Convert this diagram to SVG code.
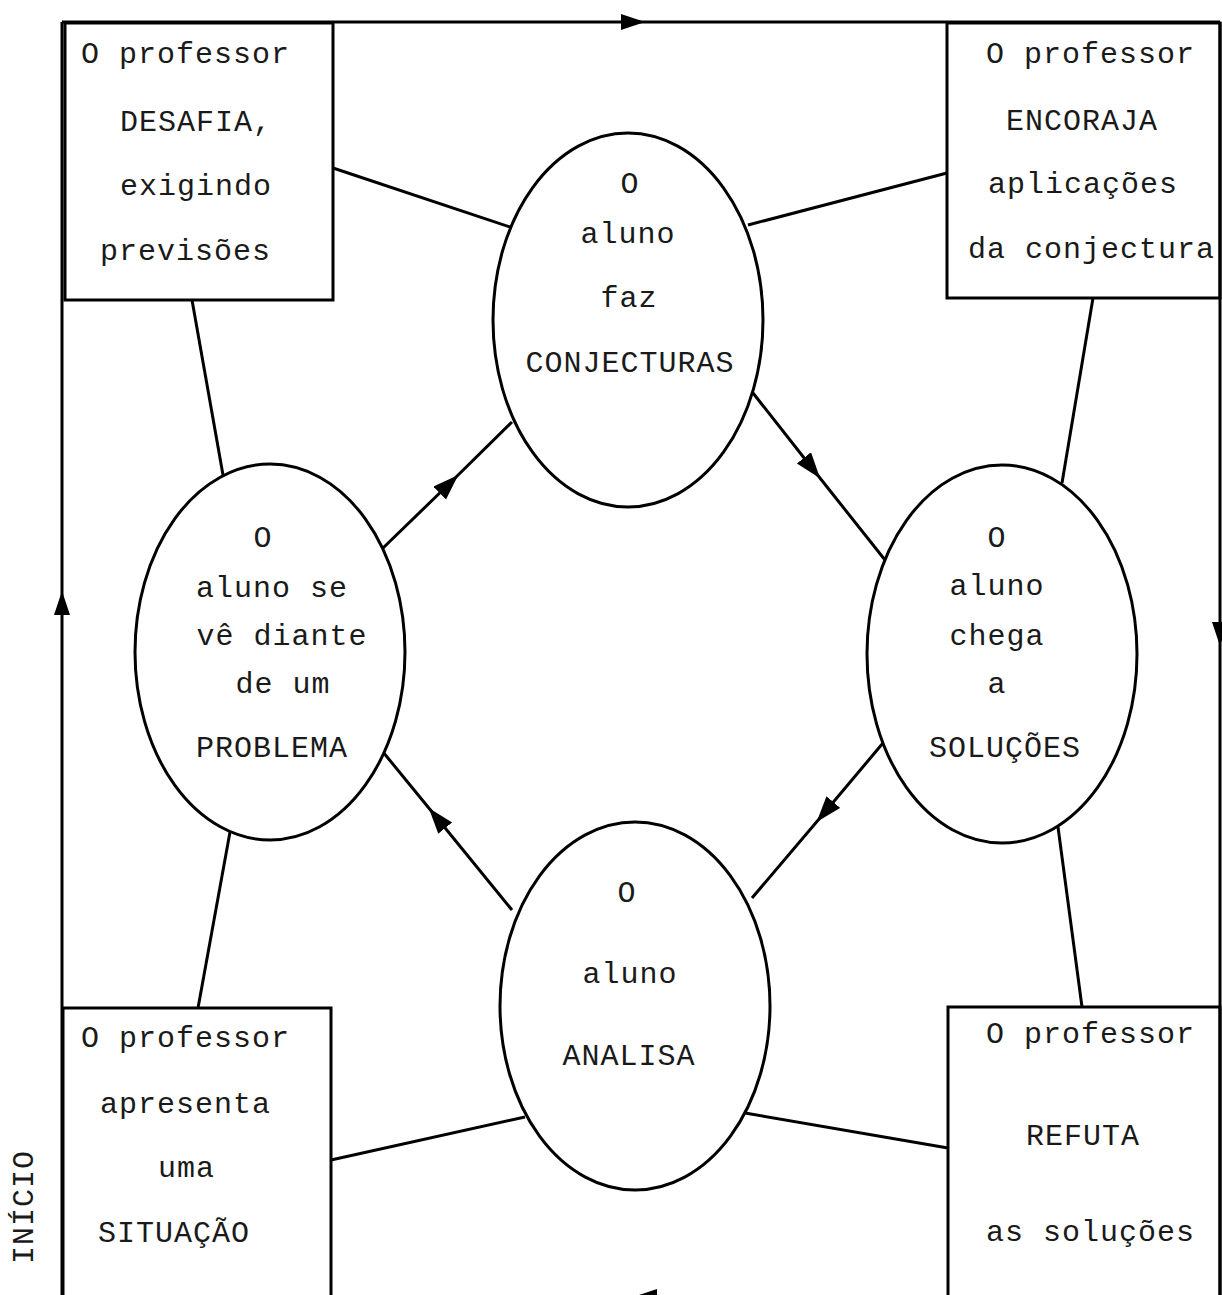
<svg xmlns="http://www.w3.org/2000/svg" width="1222" height="1295" viewBox="0 0 1222 1295">
<style>
  .t { font-family: "Liberation Mono", "DejaVu Sans Mono", monospace; font-size: 30px; letter-spacing: 1px; fill: #1a1a1a; }
  .m { text-anchor: middle; }
  .shape { fill: #fff; stroke: #000; stroke-width: 3; }
  .box { fill: none; stroke: #000; stroke-width: 3; }
  .ln { fill: none; stroke: #000; stroke-width: 3; }
  .fr { fill: none; stroke: #000; stroke-width: 3; }
</style>
<defs>
  <marker id="ah" markerUnits="userSpaceOnUse" markerWidth="26" markerHeight="20" refX="13" refY="9" orient="auto">
    <path d="M0,0 L26,9 L0,18 Z" fill="#000"/>
  </marker>
  <marker id="fh" markerUnits="userSpaceOnUse" markerWidth="26" markerHeight="18" refX="12" refY="8" orient="auto">
    <path d="M0,0 L24,8 L0,16 Z" fill="#000"/>
  </marker>
</defs>
<rect width="1222" height="1295" fill="#fff"/>
<g id="connectors">
  <!-- outer cycle frame -->
  <path class="fr" d="M62,1297 L62,603 L62,22" marker-mid="url(#fh)"/>
  <path class="fr" d="M62,22 L633,22 L1220,22" marker-mid="url(#fh)"/>
  <path class="fr" d="M1220,22 L1220,634 L1220,1297" marker-mid="url(#fh)"/>
  <path class="fr" d="M1220,1297 L645,1297 L62,1297" marker-mid="url(#fh)"/>
  <!-- professor boxes to ellipses -->
  <line class="ln" x1="333" y1="168" x2="513" y2="228"/>
  <line class="ln" x1="748" y1="225" x2="947" y2="173"/>
  <line class="ln" x1="192" y1="300" x2="223" y2="475"/>
  <line class="ln" x1="1093" y1="298" x2="1062" y2="483"/>
  <line class="ln" x1="230" y1="832" x2="198" y2="1008"/>
  <line class="ln" x1="1058" y1="827" x2="1082" y2="1007"/>
  <line class="ln" x1="525" y1="1117" x2="331" y2="1160"/>
  <line class="ln" x1="745" y1="1113" x2="948" y2="1148"/>
  <!-- inner cycle arrows -->
  <path class="ln" d="M383,548 L449,484 L512,422" marker-mid="url(#ah)"/>
  <path class="ln" d="M753,393 L812,468 L885,560" marker-mid="url(#ah)"/>
  <path class="ln" d="M883,743 L825,812 L752,898" marker-mid="url(#ah)"/>
  <path class="ln" d="M512,910 L437,818 L383,752" marker-mid="url(#ah)"/>
</g>
<g id="box-desafia">
  <rect class="box" x="65" y="23" width="268" height="277"/>
  <text class="t" x="81" y="63">O professor</text>
  <text class="t" x="120" y="131">DESAFIA,</text>
  <text class="t" x="120" y="195">exigindo</text>
  <text class="t" x="100" y="260">previsões</text>
</g>
<g id="box-encoraja">
  <rect class="box" x="947" y="23" width="273" height="275"/>
  <text class="t" x="986" y="63">O professor</text>
  <text class="t" x="1006" y="130">ENCORAJA</text>
  <text class="t" x="988" y="193">aplicações</text>
  <text class="t" x="968" y="258">da conjectura</text>
</g>
<g id="box-situacao">
  <rect class="box" x="63" y="1008" width="268" height="300"/>
  <text class="t" x="81" y="1047">O professor</text>
  <text class="t" x="100" y="1113">apresenta</text>
  <text class="t" x="158" y="1177">uma</text>
  <text class="t" x="98" y="1242">SITUAÇÃO</text>
</g>
<g id="box-refuta">
  <rect class="box" x="948" y="1007" width="272" height="300"/>
  <text class="t" x="986" y="1043">O professor</text>
  <text class="t" x="1026" y="1145">REFUTA</text>
  <text class="t" x="986" y="1241">as soluções</text>
</g>
<g id="ell-conjecturas">
  <ellipse class="shape" cx="628" cy="320" rx="135" ry="187"/>
  <text class="t m" x="630" y="193">O</text>
  <text class="t m" x="628" y="243">aluno</text>
  <text class="t m" x="629" y="307">faz</text>
  <text class="t m" x="630" y="372">CONJECTURAS</text>
</g>
<g id="ell-problema">
  <ellipse class="shape" cx="270" cy="652" rx="135" ry="188"/>
  <text class="t m" x="263" y="547">O</text>
  <text class="t m" x="272" y="597">aluno se</text>
  <text class="t m" x="282" y="645">vê diante</text>
  <text class="t m" x="283" y="693">de um</text>
  <text class="t m" x="272" y="757">PROBLEMA</text>
</g>
<g id="ell-solucoes">
  <ellipse class="shape" cx="1002" cy="654" rx="135" ry="189"/>
  <text class="t m" x="997" y="547">O</text>
  <text class="t m" x="997" y="595">aluno</text>
  <text class="t m" x="997" y="645">chega</text>
  <text class="t m" x="997" y="693">a</text>
  <text class="t m" x="1005" y="757">SOLUÇÕES</text>
</g>
<g id="ell-analisa">
  <ellipse class="shape" cx="635" cy="1006" rx="135" ry="184"/>
  <text class="t m" x="627" y="902">O</text>
  <text class="t m" x="630" y="983">aluno</text>
  <text class="t m" x="629" y="1065">ANALISA</text>
</g>
<g id="label-inicio">
  <text class="t m" transform="translate(33,1207) rotate(-90)" x="0" y="0">INÍCIO</text>
</g>
</svg>
